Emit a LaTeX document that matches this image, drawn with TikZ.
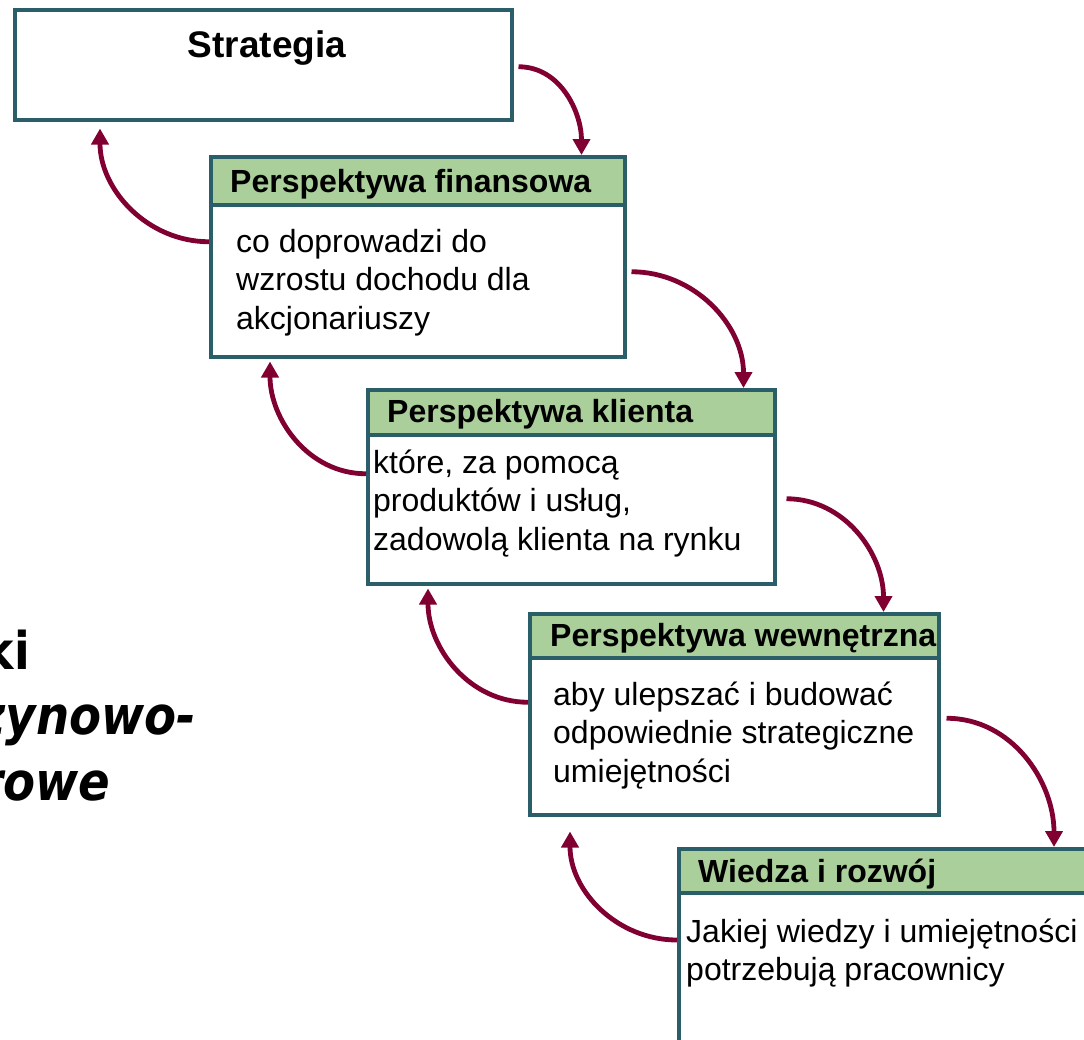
\documentclass[tikz,border=0pt]{standalone}
\usepackage{fontspec}
\setmainfont{Liberation Sans}
\newfontfamily\sidefont{DejaVu Sans}[FakeStretch=0.88]
\usetikzlibrary{arrows.meta}

\definecolor{frameteal}{RGB}{42,94,104}
\definecolor{headgreen}{RGB}{170,207,154}
\definecolor{linkred}{RGB}{128,0,50}

\newcommand{\hdrfont}{\fontsize{32}{36}\selectfont\bfseries}
\newcommand{\bodyfont}{\fontsize{32}{38.5}\selectfont}
\newcommand{\firstline}{\rule{0pt}{32pt}}

\tikzset{
  panel/.style={draw=frameteal, line width=3.5pt, fill=white, rectangle,
    anchor=north west, inner sep=0pt},
  header/.style={panel, fill=headgreen},
  hdrtext/.style={anchor=base west, inner sep=0pt, font=\hdrfont},
  bodytext/.style={anchor=north west, inner sep=0pt, align=left, font=\bodyfont},
  link/.style={draw=linkred, line width=4.8pt,
    -{Triangle[width=17pt,length=16pt]}},
  sidetext/.style={anchor=base east, inner sep=0pt,
    font=\sidefont\fontsize{52}{60}\selectfont\bfseries},
  sideital/.style={sidetext, font=\sidefont\fontsize{53}{60}\selectfont\bfseries\itshape}
}

\begin{document}
\begin{tikzpicture}[x=1pt, y=1pt]
\useasboundingbox (0,0) rectangle (1084,-1039);

% partly hidden side title
\node[sidetext] (side1) at (30,-669) {ki};
\node[sideital] (side2) at (196,-734) {zynowo-};
\node[sideital] (side3) at (110,-800) {rowe};

% strategy box
\node[panel, minimum width=497pt, minimum height=110pt] (strat) at (13,-8) {};
\node[anchor=base, inner sep=0pt, font=\fontsize{37}{40}\selectfont\bfseries] (stratlbl) at (267,-57) {Strategia};

% financial perspective
\node[panel, minimum width=414pt, minimum height=200pt] (fin) at (209,-155) {};
\node[header, minimum width=414pt, minimum height=48pt] (finhdr) at (209,-155) {};
\node[hdrtext] (finttl) at (230,-192) {Perspektywa finansowa};
\node[bodytext] (finbody) at (236,-220) {\firstline co doprowadzi do\\wzrostu dochodu dla\\akcjonariuszy};

% customer perspective
\node[panel, minimum width=407pt, minimum height=194pt] (kl) at (366,-388) {};
\node[header, minimum width=407pt, minimum height=45pt] (klhdr) at (366,-388) {};
\node[hdrtext] (klttl) at (387,-422) {Perspektywa klienta};
\node[bodytext] (klbody) at (373,-441) {\firstline które, za pomocą\\produktów i usług,\\zadowolą klienta na rynku};

% internal perspective
\node[panel, minimum width=409pt, minimum height=201pt] (we) at (528,-612) {};
\node[header, minimum width=409pt, minimum height=44pt] (wehdr) at (528,-612) {};
\node[hdrtext] (wettl) at (550,-646) {Perspektywa wewnętrzna};
\node[bodytext] (webody) at (553,-673) {\firstline aby ulepszać i budować\\odpowiednie strategiczne\\umiejętności};

% learning and growth
\node[panel, minimum width=420pt, minimum height=220pt] (wd) at (677,-847) {};
\node[header, minimum width=420pt, minimum height=44pt] (wdhdr) at (677,-847) {};
\node[hdrtext] (wdttl) at (698,-882) {Wiedza i rozwój};
\node[bodytext] (wdbody) at (686,-910) {\firstline Jakiej wiedzy i umiejętności\\potrzebują pracownicy};

% downward links
\draw[link] ([shift={(5pt,-2pt)}]strat.east) to[out=0,in=90] ([xshift=-45pt]finhdr.north east);
\draw[link] ([shift={(5pt,-15pt)}]fin.east) to[out=0,in=90] ([xshift=-33pt]klhdr.north east);
\draw[link] ([shift={(10pt,-12pt)}]kl.east) to[out=0,in=90] ([xshift=-57pt]wehdr.north east);
\draw[link] ([shift={(6pt,-4pt)}]we.east) to[out=0,in=90] ([xshift=377pt]wdhdr.north west);

% upward links
\draw[link] ([yshift=15pt]fin.west) to[out=180,in=-90] ([shift={(87pt,-7pt)}]strat.south west);
\draw[link] ([yshift=13pt]kl.west) to[out=180,in=-90] ([shift={(61pt,-3pt)}]fin.south west);
\draw[link] ([yshift=12pt]we.west) to[out=180,in=-90] ([shift={(62pt,-3pt)}]kl.south west);
\draw[link] ([yshift=-93pt]wd.north west) to[out=180,in=-90] ([shift={(42pt,-15pt)}]we.south west);
\end{tikzpicture}
\end{document}
